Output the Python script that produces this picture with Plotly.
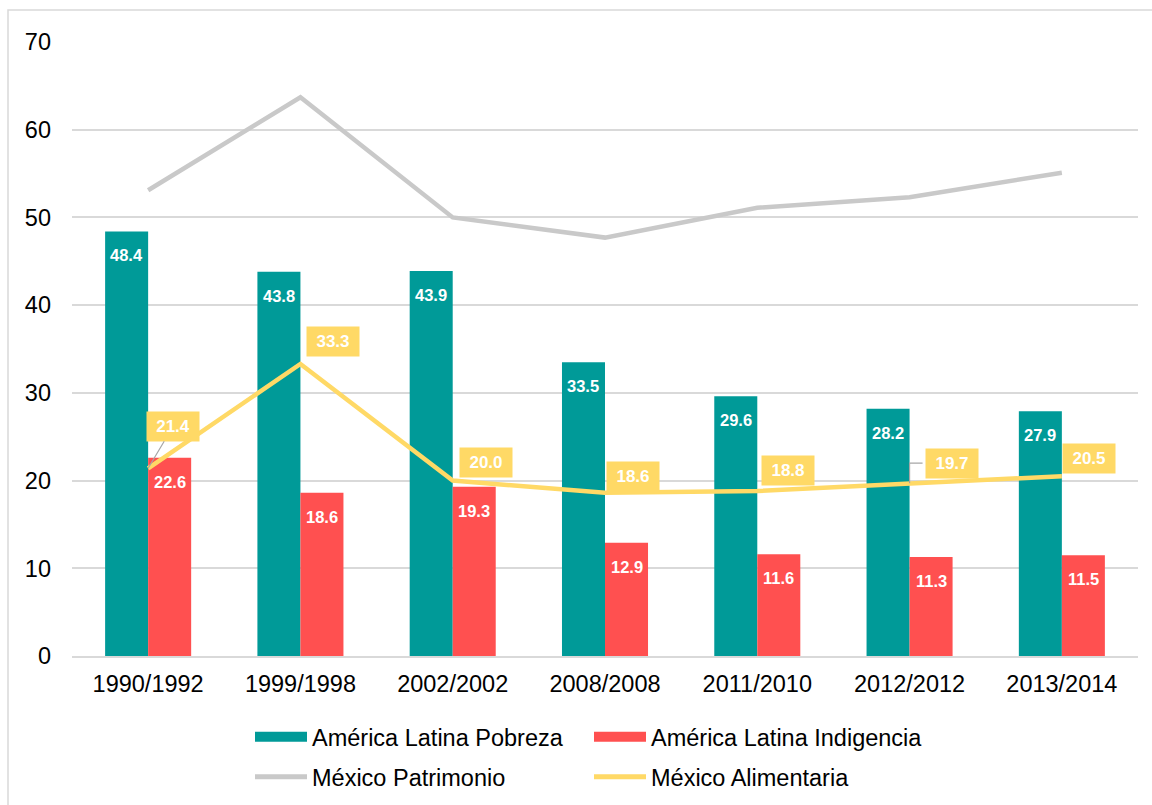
import plotly.graph_objects as go

# Periods (América Latina year / México year)
periodos = ["1990/1992", "1999/1998", "2002/2002", "2008/2008",
            "2011/2010", "2012/2012", "2013/2014"]

# Percent of population
al_pobreza = [48.4, 43.8, 43.9, 33.5, 29.6, 28.2, 27.9]
al_indigencia = [22.6, 18.6, 19.3, 12.9, 11.6, 11.3, 11.5]
mx_patrimonio = [53.1, 63.7, 50.0, 47.7, 51.1, 52.3, 55.1]
mx_alimentaria = [21.4, 33.3, 20.0, 18.6, 18.8, 19.7, 20.5]

y_ticks = [0, 10, 20, 30, 40, 50, 60, 70]

TEAL = "#009A98"
RED = "#FF5050"
GRAY = "#C9C9C9"
YELLOW = "#FFD966"
GRID = "#D9D9D9"
FONT = "Liberation Sans, Arial, sans-serif"

W, H = 1152, 805
ML, MR, MT, MB = 72, 14, 42, 149
PW, PH = W - ML - MR, H - MT - MB
BARGAP = 0.435
# half of one bar's width in px: each bar sits this far from the category centre
BAR_HALF = (1 - BARGAP) * PW / len(periodos) / 4


def px_x(px):
    return (px - ML) / PW


def px_y(py):
    return (H - MB - py) / PH


fig = go.Figure()

fig.add_trace(go.Bar(
    x=periodos, y=al_pobreza, name="América Latina Pobreza",
    marker=dict(color=TEAL, line=dict(width=0)), showlegend=False,
))
fig.add_trace(go.Bar(
    x=periodos, y=al_indigencia, name="América Latina Indigencia",
    marker=dict(color=RED, line=dict(width=0)), showlegend=False,
))
fig.add_trace(go.Scatter(
    x=periodos, y=mx_patrimonio, name="México Patrimonio", mode="lines",
    line=dict(color=GRAY, width=4.5), showlegend=False,
))
fig.add_trace(go.Scatter(
    x=periodos, y=mx_alimentaria, name="México Alimentaria", mode="lines",
    line=dict(color=YELLOW, width=4.5), showlegend=False,
))

# Legend entries: wide swatches for the bar series, lines for the others
for name, color, width, leg in [
    ("América Latina Pobreza", TEAL, 12, "legend"),
    ("América Latina Indigencia", RED, 12, "legend"),
    ("México Patrimonio", GRAY, 5, "legend2"),
    ("México Alimentaria", YELLOW, 5, "legend2"),
]:
    fig.add_trace(go.Scatter(
        x=[None], y=[None], name=name, mode="lines",
        line=dict(color=color, width=width), legend=leg,
    ))

annotations = []

# Value labels just below the top of each bar
for values, side in [(al_pobreza, -1), (al_indigencia, 1)]:
    for cat, val in zip(periodos, values):
        annotations.append(dict(
            x=cat, y=val, xref="x", yref="y", showarrow=False,
            text=f"<b>{val:.1f}</b>", xshift=side * BAR_HALF, yshift=-24,
            xanchor="center", yanchor="middle",
            font=dict(color="white", size=16.5, family=FONT),
        ))

# Value boxes for the México Alimentaria line (offsets in px from each point)
label_offsets = [(25, 42), (33, 22), (33, 18), (28, 16), (31, 21), (42, 20), (27, 18)]
diag_leader = [True, False, False, False, False, False, False]
for cat, val, (dx, dy), lead in zip(periodos, mx_alimentaria, label_offsets, diag_leader):
    common = dict(
        x=cat, y=val, xref="x", yref="y",
        text=f"<b>{val:.1f}</b>",
        font=dict(color="white", size=17, family=FONT),
        bgcolor=YELLOW, width=44, height=21, borderpad=4,
        align="center", valign="middle",
    )
    if lead:
        annotations.append(dict(
            **common, showarrow=True, arrowhead=0, arrowwidth=1.2,
            arrowcolor="#A6A6A6", ax=dx, ay=-dy, axref="pixel", ayref="pixel",
            standoff=0,
        ))
    else:
        annotations.append(dict(
            **common, showarrow=False, xshift=dx, yshift=dy,
            xanchor="center", yanchor="middle",
        ))

shapes = [dict(
    type="rect", xref="paper", yref="paper", layer="below",
    x0=px_x(8), x1=px_x(1170), y0=px_y(830), y1=px_y(10),
    line=dict(color=GRID, width=1.5), fillcolor="rgba(0,0,0,0)",
)]
# Elbow leader line from the 2012 point up to its value box
shapes.append(dict(
    type="path", xref="x", yref="y", xsizemode="pixel", ysizemode="pixel",
    xanchor=periodos[5], yanchor=mx_alimentaria[5],
    path="M0,0 V20 H13", line=dict(color="#A6A6A6", width=1.2), layer="above",
))

legend_style = dict(
    orientation="h", xref="container", yref="container",
    xanchor="left", yanchor="middle",
    entrywidth=272, entrywidthmode="pixels", itemwidth=52,
    font=dict(size=23.5, family=FONT, color="#000000"),
    bgcolor="rgba(0,0,0,0)", tracegroupgap=0,
)

fig.update_layout(
    width=W, height=H,
    margin=dict(l=ML, r=MR, t=MT, b=MB, pad=0, autoexpand=False),
    paper_bgcolor="white", plot_bgcolor="white",
    barmode="group", bargap=BARGAP, bargroupgap=0,
    font=dict(family=FONT, color="#000000"),
    annotations=annotations, shapes=shapes,
    legend=dict(**legend_style, x=250 / W, y=1 - 737 / H),
    legend2=dict(**legend_style, x=250 / W, y=1 - 777 / H),
)

fig.update_xaxes(
    type="category", showgrid=False, showline=True, linecolor=GRID, linewidth=1.5,
    ticks="", tickfont=dict(size=23.5, family=FONT, color="#000000"),
    ticklabelstandoff=6,
)
fig.update_yaxes(
    range=[0, 70], tickvals=y_ticks, showgrid=True, gridcolor=GRID, gridwidth=1.5,
    zeroline=False, showline=False, ticks="",
    tickfont=dict(size=23.5, family=FONT, color="#000000"),
    ticklabelstandoff=20,
)

fig.write_html("out.html")
